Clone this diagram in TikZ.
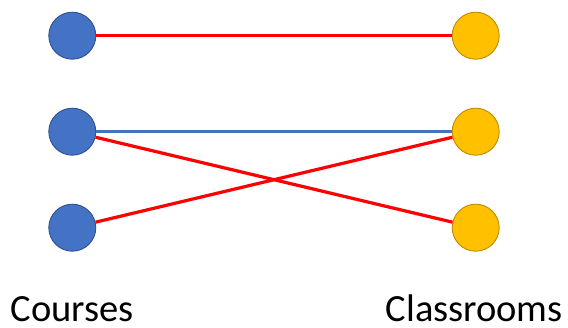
\documentclass[tikz,border=0pt]{standalone}
\usepackage{fontspec}
\setmainfont{Carlito}
\definecolor{courseblue}{HTML}{4472C4}
\definecolor{courseedge}{HTML}{2F528F}
\definecolor{roomgold}{HTML}{FFC000}
\definecolor{roomedge}{HTML}{BC8C00}
\definecolor{linkred}{HTML}{FF0000}
\begin{document}
\begin{tikzpicture}[x=1pt,y=-1pt,
  course/.style={circle,minimum size=47pt,inner sep=0pt,fill=courseblue,draw=courseedge,line width=0.9pt},
  room/.style={circle,minimum size=47pt,inner sep=0pt,fill=roomgold,draw=roomedge,line width=0.9pt},
  redlink/.style={draw=linkred,line width=3.2pt},
  bluelink/.style={draw=courseblue,line width=2.4pt},
  caption/.style={font=\fontsize{38.5}{46}\selectfont,inner sep=0pt,text depth=0pt,anchor=base west}]
\useasboundingbox (0,0) rectangle (568,328);
% the two columns of vertices
\node[course] (c1) at (72.3,35.7) {};
\node[course] (c2) at (72.3,131.7) {};
\node[course] (c3) at (72.3,227.7) {};
\node[room] (r1) at (475.7,35.7) {};
\node[room] (r2) at (475.7,131.7) {};
\node[room] (r3) at (475.7,227.7) {};
% edges between courses and classrooms
\path[redlink] (c1) -- (r1);
\path[bluelink] (c2) -- (r2);
\path[redlink] (c2) -- (r3);
\path[redlink] (c3) -- (r2);
% column captions
\node[caption] (lc) at (10.5,322) {Courses};
\node[caption] (lr) at (385.5,322) {Classrooms};
\end{tikzpicture}
\end{document}
